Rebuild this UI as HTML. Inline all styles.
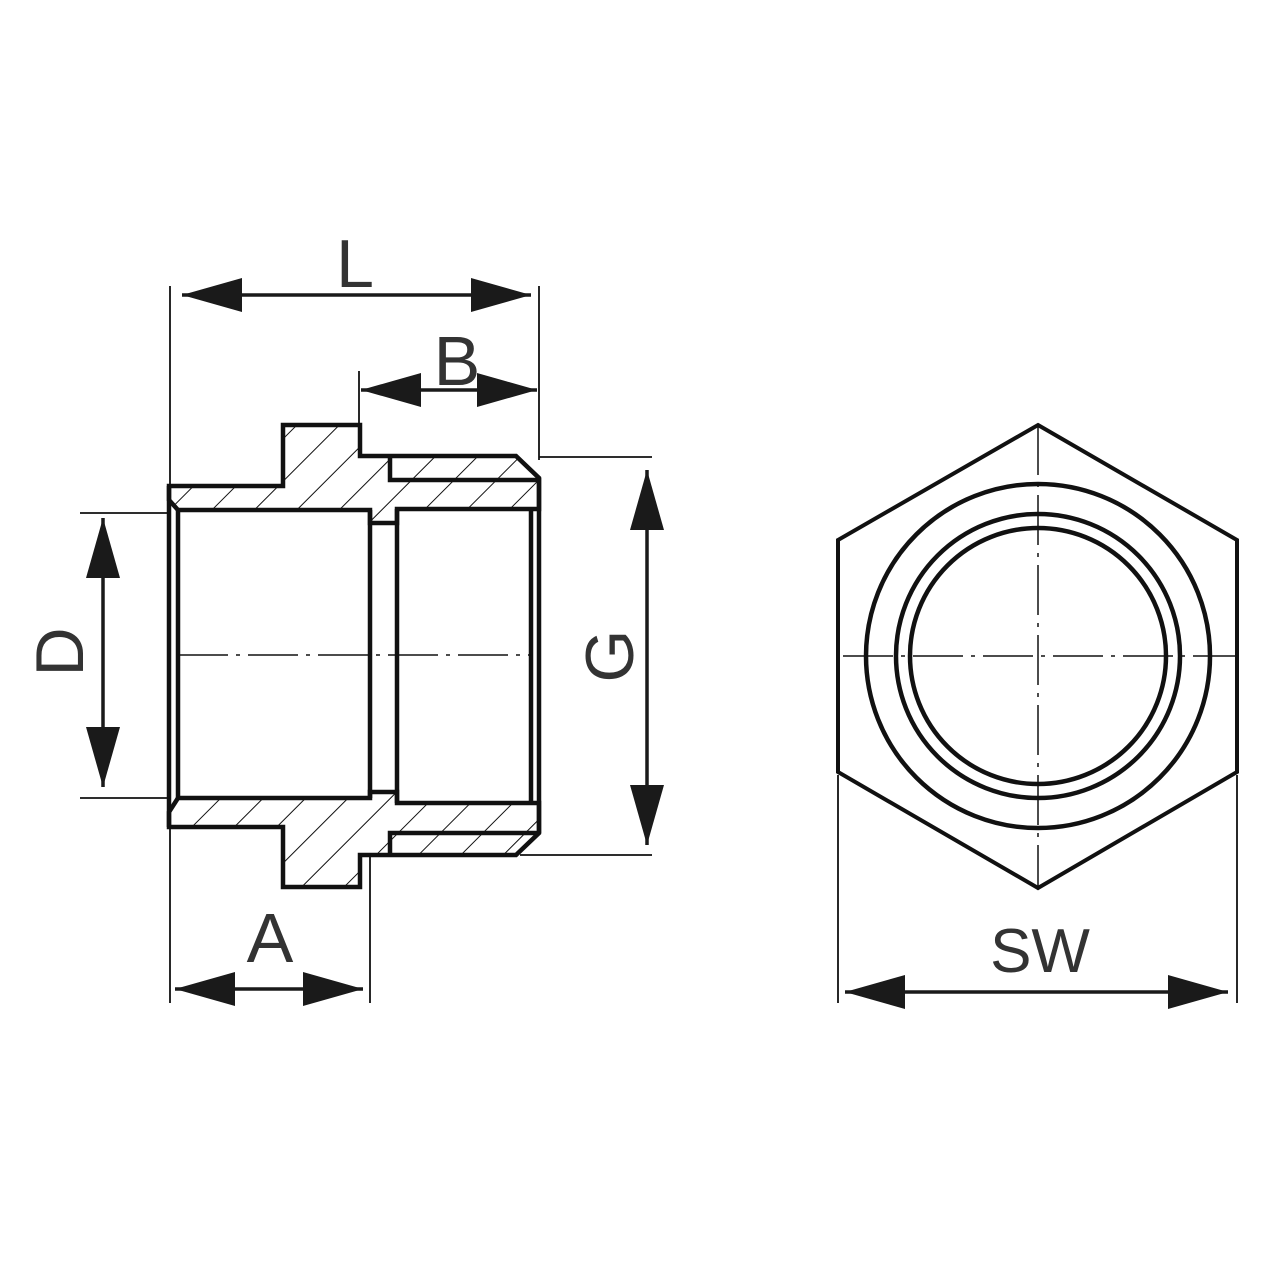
<!DOCTYPE html>
<html><head><meta charset="utf-8"><style>
html,body{margin:0;padding:0;background:#fff}
svg{display:block}
text{font-family:"Liberation Sans",sans-serif;fill:#333}
</style></head><body>
<svg width="1280" height="1280" viewBox="0 0 1280 1280" xmlns="http://www.w3.org/2000/svg">
<defs>
<pattern id="h" patternUnits="userSpaceOnUse" width="30" height="30" patternTransform="rotate(45)">
<line x1="0" y1="0" x2="0" y2="30" stroke="#111" stroke-width="2"/>
</pattern>
<marker id="a" viewBox="0 0 60 34" refX="60" refY="17" markerWidth="60" markerHeight="34" markerUnits="userSpaceOnUse" orient="auto-start-reverse">
<path d="M0,0 L60,17 L0,34 Z" fill="#1a1a1a"/>
</marker>
</defs>

<g fill="url(#h)" stroke="#111" stroke-width="4.5" stroke-linejoin="miter">
<path d="M169,500 L169,486 L283,486 L283,425 L360,425 L360,456 L516,456 L539,478 L539,509 L397,509 L397,523 L370,523 L370,510 L178,510 Z"/>
<path d="M169,812 L169,827 L283,827 L283,887 L360,887 L360,855 L516,855 L539,833 L539,803 L397,803 L397,792 L370,792 L370,798 L178,798 Z"/>
</g>
<g stroke="#111" stroke-width="4.5" fill="none">
<path d="M390,456 L390,480 L539,480"/>
<path d="M390,855 L390,833 L539,833"/>
<line x1="169" y1="486" x2="169" y2="827"/>
<line x1="178" y1="510" x2="178" y2="798"/>
<line x1="370" y1="510" x2="370" y2="798"/>
<line x1="397" y1="509" x2="397" y2="803"/>
<line x1="539" y1="478" x2="539" y2="833"/>
<line x1="531" y1="509" x2="531" y2="803"/>
</g>
<line x1="178" y1="655" x2="531" y2="655" stroke="#111" stroke-width="1.5" stroke-dasharray="50,8,4,8"/>

<g stroke="#111" stroke-width="1.8">
<line x1="170" y1="286" x2="170" y2="1003"/>
<line x1="539" y1="286" x2="539" y2="460"/>
<line x1="359" y1="371" x2="359" y2="425"/>
<line x1="370" y1="855" x2="370" y2="1003"/>
<line x1="80" y1="513" x2="170" y2="513"/>
<line x1="80" y1="798" x2="170" y2="798"/>
<line x1="539" y1="457" x2="652" y2="457"/>
<line x1="520" y1="855" x2="652" y2="855"/>
<line x1="838" y1="775" x2="838" y2="1003"/>
<line x1="1237" y1="775" x2="1237" y2="1003"/>
</g>
<g stroke="#1a1a1a" stroke-width="3.5" marker-start="url(#a)" marker-end="url(#a)">
<line x1="182" y1="295" x2="531" y2="295"/>
<line x1="361" y1="390" x2="537" y2="390"/>
<line x1="175" y1="989" x2="363" y2="989"/>
<line x1="103" y1="518" x2="103" y2="787"/>
<line x1="647" y1="470" x2="647" y2="845"/>
<line x1="845" y1="992" x2="1228" y2="992"/>
</g>

<text x="355" y="287" font-size="68" text-anchor="middle">L</text>
<text x="457" y="385" font-size="70" text-anchor="middle">B</text>
<text x="270" y="962" font-size="70" text-anchor="middle">A</text>
<text x="1040" y="972" font-size="62" text-anchor="middle">SW</text>
<text transform="translate(83,652) rotate(-90)" font-size="68" text-anchor="middle">D</text>
<text transform="translate(633,656) rotate(-90)" font-size="68" text-anchor="middle">G</text>

<polygon points="1038,425 1237,540 1237,772 1038,888 838,772 838,540" fill="none" stroke="#111" stroke-width="4"/>
<g fill="none" stroke="#111" stroke-width="4.5">
<circle cx="1038" cy="656" r="172"/>
<circle cx="1038" cy="656" r="142"/>
<circle cx="1038" cy="656" r="128"/>
</g>
<g stroke="#111" stroke-width="1.5" stroke-dasharray="50,8,4,8">
<line x1="843" y1="656" x2="1235" y2="656"/>
<line x1="1038" y1="425" x2="1038" y2="888"/>
</g>
</svg>
</body></html>
